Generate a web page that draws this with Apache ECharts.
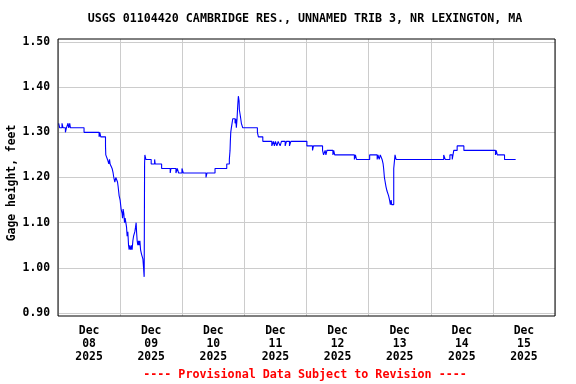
<!DOCTYPE html>
<html><head><meta charset="utf-8">
<script src="https://cdn.jsdelivr.net/npm/echarts@6/dist/echarts.min.js"></script>
<style>html,body{margin:0;padding:0;background:#fff}#c{width:576px;height:384px}</style>
</head><body><div id="c"></div>
<script>
const chartTitle = 'USGS 01104420 CAMBRIDGE RES., UNNAMED TRIB 3, NR LEXINGTON, MA';
const yAxisName = 'Gage height, feet';
const footerText = '---- Provisional Data Subject to Revision ----';
const dayLabels = ['Dec\n08\n2025','Dec\n09\n2025','Dec\n10\n2025','Dec\n11\n2025','Dec\n12\n2025','Dec\n13\n2025','Dec\n14\n2025','Dec\n15\n2025'];
// hours since Dec 08 2025 00:00
const hours = [0.25,0.66,1.55,1.94,2.86,3.25,3.87,4.14,4.53,4.8,10.06,15.87,16.14,16.53,18.35,18.46,19.12,19.63,19.9,20.13,20.9,21.29,21.56,21.95,22.34,22.99,23.23,23.61,24.0,24.39,24.78,24.93,25.16,25.43,25.7,25.94,26.21,26.48,26.71,26.98,27.25,27.48,27.75,28.14,28.41,28.64,28.92,29.19,29.69,29.96,30.19,30.35,30.58,30.85,31.12,31.35,31.63,31.9,32.28,32.79,33.06,33.17,33.29,33.45,33.56,33.95,36.0,37.32,37.55,40.03,43.35,43.63,45.56,46.07,46.6,47.89,48.4,57.17,57.56,60.66,65.19,66.19,66.46,66.58,66.74,66.97,67.24,67.51,68.4,68.67,68.9,69.17,69.44,69.68,69.95,70.06,70.34,70.6,70.84,71.38,77.03,77.42,79.12,82.6,83.23,83.6,84.0,84.55,85.05,85.82,86.32,87.76,88.26,89.42,89.96,96.15,98.32,98.7,102.2,102.6,103.2,103.5,103.9,106.2,106.5,106.9,114.5,114.9,115.3,120.4,123.3,123.6,124.1,124.5,125.2,125.6,125.8,126.1,126.7,127.1,127.7,128.1,128.4,128.7,128.9,129.7,130.2,130.6,149.0,149.6,151.4,152.3,152.9,154.2,156.8,169.0,169.3,169.7,172.5,176.8];
const gage = [1.32,1.31,1.32,1.31,1.30,1.31,1.32,1.31,1.32,1.31,1.30,1.29,1.30,1.29,1.27,1.25,1.24,1.23,1.24,1.23,1.22,1.21,1.20,1.19,1.20,1.19,1.18,1.16,1.15,1.13,1.12,1.11,1.13,1.12,1.10,1.11,1.10,1.09,1.07,1.08,1.05,1.04,1.05,1.04,1.05,1.04,1.06,1.07,1.08,1.09,1.10,1.08,1.06,1.05,1.06,1.05,1.06,1.04,1.03,1.02,1.00,0.99,0.98,1.23,1.25,1.24,1.23,1.24,1.23,1.22,1.21,1.22,1.21,1.22,1.21,1.22,1.21,1.20,1.21,1.22,1.23,1.24,1.26,1.28,1.30,1.31,1.32,1.33,1.32,1.33,1.31,1.33,1.36,1.38,1.37,1.35,1.34,1.33,1.32,1.31,1.30,1.29,1.28,1.27,1.28,1.27,1.28,1.27,1.28,1.27,1.28,1.27,1.28,1.27,1.28,1.27,1.26,1.27,1.26,1.25,1.26,1.25,1.26,1.25,1.26,1.25,1.24,1.25,1.24,1.25,1.24,1.25,1.24,1.25,1.24,1.23,1.22,1.20,1.18,1.17,1.16,1.15,1.14,1.15,1.14,1.22,1.25,1.24,1.25,1.24,1.25,1.24,1.26,1.27,1.26,1.25,1.26,1.25,1.24,1.24];
const yMin = 0.9, yMax = 1.5, yStep = 0.1;
const xMax = 192, xStep = 24;

const FONT = 'DejaVu Sans Mono';
const series = hours.map((h, i) => [h, gage[i]]);
const chart = echarts.init(document.getElementById('c'), null, {renderer: 'canvas'});
const gridL = 58, gridR = 21;
chart.setOption({
  animation: false,
  backgroundColor: '#fff',
  grid: [
    {left: gridL, right: gridR, top: 39, bottom: 68, show: true, borderColor: '#000', borderWidth: 1, backgroundColor: 'transparent', z: 10},
    {left: gridL, right: gridR, top: 42, bottom: 71}
  ],
  xAxis: [
    {gridIndex: 0, type: 'value', min: 0, max: xMax, interval: xStep,
     axisLine: {show: false}, axisTick: {show: false}, axisLabel: {show: false},
     splitLine: {show: true, lineStyle: {color: '#cccccc', width: 1}}},
    {gridIndex: 0, type: 'category', data: dayLabels, boundaryGap: true, position: 'bottom',
     axisLine: {show: false}, axisTick: {show: false}, splitLine: {show: false},
     axisLabel: {margin: 9, fontFamily: FONT, fontWeight: 'bold', fontSize: 11.4, color: '#000', lineHeight: 13, interval: 0}},
    {gridIndex: 1, type: 'value', min: 0, max: xMax, show: false, splitLine: {show: false}}
  ],
  yAxis: [
    {gridIndex: 0, type: 'value', show: false, splitLine: {show: false}},
    {gridIndex: 1, type: 'value', min: yMin, max: yMax, interval: yStep,
     axisLine: {show: false}, axisTick: {show: false},
     axisLabel: {margin: 8, fontFamily: FONT, fontWeight: 'bold', fontSize: 11.4, color: '#000', formatter: v => v.toFixed(2)},
     splitLine: {show: true, lineStyle: {color: '#cccccc', width: 1}}}
  ],
  graphic: [
    {type: 'text', x: 305, y: 19, style: {text: chartTitle, fill: '#000', font: 'bold 11.65px "DejaVu Sans Mono"', textAlign: 'center', textVerticalAlign: 'middle'}},
    {type: 'text', rotation: Math.PI / 2, x: 12, y: 183, style: {text: yAxisName, fill: '#000', font: 'bold 11.4px "DejaVu Sans Mono"', textAlign: 'center', textVerticalAlign: 'middle'}},
    {type: 'text', x: 305, y: 375, style: {text: footerText, fill: '#ff0000', font: 'bold 11.7px "DejaVu Sans Mono"', textAlign: 'center', textVerticalAlign: 'middle'}}
  ],
  series: [{
    type: 'line', xAxisIndex: 2, yAxisIndex: 1, data: series, step: 'end',
    showSymbol: false, symbol: 'none', lineStyle: {color: '#0000ff', width: 1.1}, z: 5
  }]
});
</script></body></html>
